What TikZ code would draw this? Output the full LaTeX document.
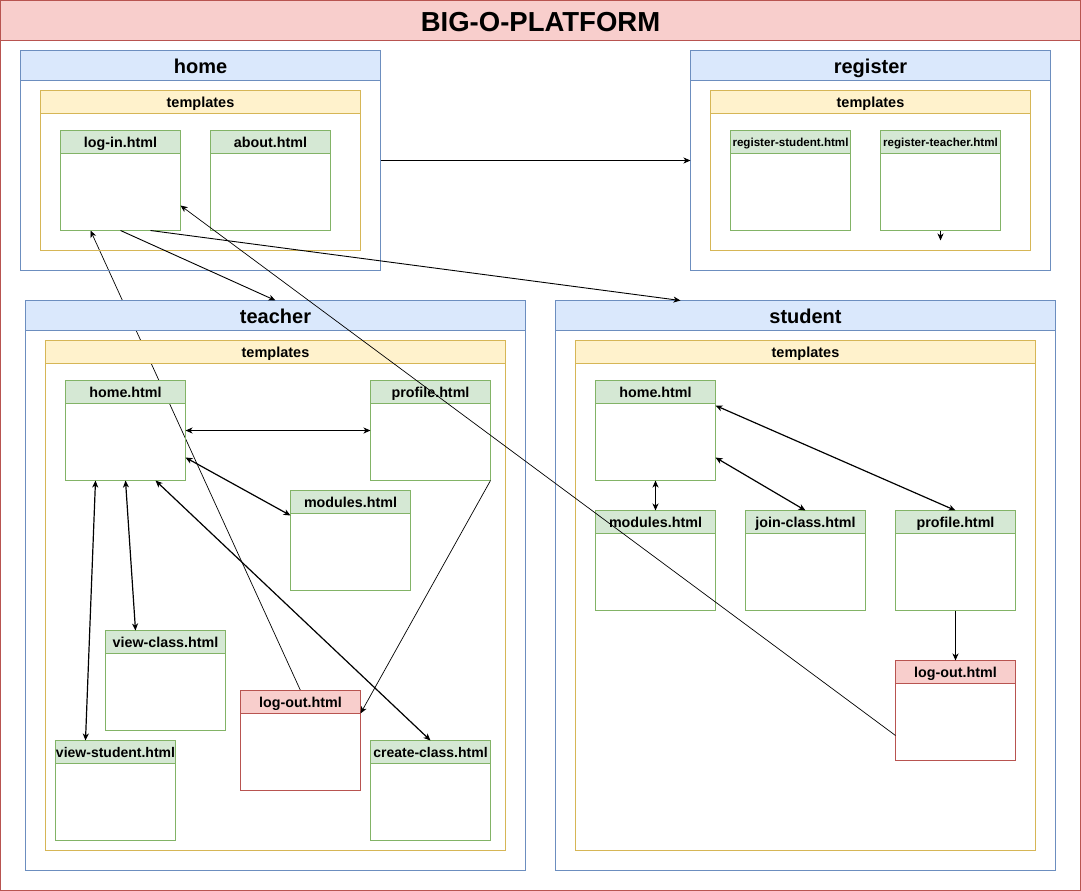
\documentclass[tikz,border=0pt]{standalone}
\usepackage{fontspec}
\setmainfont{Liberation Sans}
\usetikzlibrary{arrows.meta}
\definecolor{redF}{HTML}{F8CECC}\definecolor{redS}{HTML}{B85450}
\definecolor{blueF}{HTML}{DAE8FC}\definecolor{blueS}{HTML}{6C8EBF}
\definecolor{yelF}{HTML}{FFF2CC}\definecolor{yelS}{HTML}{D6B656}
\definecolor{greenF}{HTML}{D5E8D4}\definecolor{greenS}{HTML}{82B366}
\pgfdeclarelayer{back}\pgfdeclarelayer{bg}
\pgfsetlayers{back,bg,main}
\newcommand\lane[9]{%
 \node[draw=#7S, line width=1pt, anchor=north west, inner sep=0, outer sep=0,
   minimum width={#4-#2}, minimum height={#5-#3}] (#1) at (#2,#3) {};
 \node[draw=#7S, fill=#7F, line width=1pt, anchor=north west, inner sep=0, outer sep=0,
   minimum width={#4-#2}, minimum height=#6, text height=\dimexpr #8pt*82/100\relax, text depth=0pt,
   font={\bfseries\fontsize{#8}{#8}\selectfont}] (#1-h) at (#2,#3) {#9};
}
\tikzset{
 arr/.style={-{Stealth[length=7pt,width=6pt,inset=2pt]}, line width=0.9pt},
 thinarr/.style={-{Stealth[length=7pt,width=6pt,inset=2pt]}, line width=0.7pt},
 dbl/.style={{Stealth[length=7pt,width=6pt,inset=2pt]}-{Stealth[length=7pt,width=6pt,inset=2pt]}, line width=1.2pt},
}
\begin{document}
\begin{tikzpicture}[x=1pt,y=-1pt]
\begin{pgfonlayer}{back}
\fill[white] (0,0) rectangle (1081,891);
\end{pgfonlayer}
\useasboundingbox (0,0) rectangle (1081,891);
% outer
\lane{om}{0.5}{0.5}{1080.5}{890.5}{40}{red}{27.5}{BIG-O-PLATFORM}
% home
\lane{hm}{20.5}{50.5}{380.5}{270.5}{30}{blue}{20}{home}
\lane{hmt}{40.5}{90.5}{360.5}{250.5}{23}{yel}{14.5}{templates}
\lane{login}{60.5}{130.5}{180.5}{230.5}{23}{green}{14.3}{log-in.html}
\lane{about}{210.5}{130.5}{330.5}{230.5}{23}{green}{14.3}{about.html}
% register
\lane{rg}{690.5}{50.5}{1050.5}{270.5}{30}{blue}{20}{register}
\lane{rgt}{710.5}{90.5}{1030.5}{250.5}{23}{yel}{14.5}{templates}
\lane{rstu}{730.5}{130.5}{850.5}{230.5}{23}{green}{11.6}{register-student.html}
\lane{rtea}{880.5}{130.5}{1000.5}{230.5}{23}{green}{11.6}{register-teacher.html}
% teacher
\lane{te}{25.5}{300.5}{525.5}{870.5}{30}{blue}{20}{teacher}
\lane{tet}{45.5}{340.5}{505.5}{850.5}{23}{yel}{14.5}{templates}
\lane{thome}{65.5}{380.5}{185.5}{480.5}{23}{green}{14.3}{home.html}
\lane{tprof}{370.5}{380.5}{490.5}{480.5}{23}{green}{14.3}{profile.html}
\lane{tmod}{290.5}{490.5}{410.5}{590.5}{23}{green}{14.3}{modules.html}
\lane{tvc}{105.5}{630.5}{225.5}{730.5}{23}{green}{14.3}{view-class.html}
\lane{tlo}{240.5}{690.5}{360.5}{790.5}{23}{red}{14.3}{log-out.html}
\lane{tvs}{55.5}{740.5}{175.5}{840.5}{23}{green}{14}{view-student.html}
\lane{tcc}{370.5}{740.5}{490.5}{840.5}{23}{green}{14}{create-class.html}
% student
\lane{st}{555.5}{300.5}{1055.5}{870.5}{30}{blue}{20}{student}
\lane{stt}{575.5}{340.5}{1035.5}{850.5}{23}{yel}{14.5}{templates}
\lane{shome}{595.5}{380.5}{715.5}{480.5}{23}{green}{14.3}{home.html}
\lane{smod}{595.5}{510.5}{715.5}{610.5}{23}{green}{14.3}{modules.html}
\lane{sjoin}{745.5}{510.5}{865.5}{610.5}{23}{green}{14.3}{join-class.html}
\lane{sprof}{895.5}{510.5}{1015.5}{610.5}{23}{green}{14.3}{profile.html}
\lane{slo}{895.5}{660.5}{1015.5}{760.5}{23}{red}{14.3}{log-out.html}
% edges behind headers
\begin{pgfonlayer}{bg}
\draw[thinarr] (tlo.north) -- ([xshift=-30pt]login.south);
\end{pgfonlayer}
% edges
\draw[arr] (hm.east) -- (rg.west);
\draw[arr] (login.south) -- (te.north);
\draw[arr] ([xshift=30pt]login.south) -- ([xshift=-125pt]st.north);
\coordinate (rtip) at ([yshift=-10pt]rtea.south);
\draw[arr] (rtea.south) -- (rtip);
\draw[dbl] (thome.east) -- (tprof.west);
\draw[dbl] ([yshift=-27pt]thome.east) -- ([yshift=25pt]tmod.west);
\draw[dbl] ([xshift=-30pt]thome.south) -- ([xshift=-30pt]tvs.north);
\draw[dbl] (thome.south) -- ([xshift=-30pt]tvc.north);
\draw[dbl] ([xshift=30pt]thome.south) -- (tcc.north);
\draw[thinarr] (tprof.south east) -- ([yshift=-23pt]tlo.north east);
\draw[dbl] ([yshift=25pt]shome.east) -- (sprof.north);
\draw[dbl] ([yshift=-27pt]shome.east) -- (sjoin.north);
\draw[dbl] (shome.south) -- (smod.north);
\draw[arr] (sprof.south) -- (slo.north);
\draw[thinarr] ([yshift=-25pt]slo.west) -- ([yshift=-25pt]login.east);
\end{tikzpicture}
\end{document}
